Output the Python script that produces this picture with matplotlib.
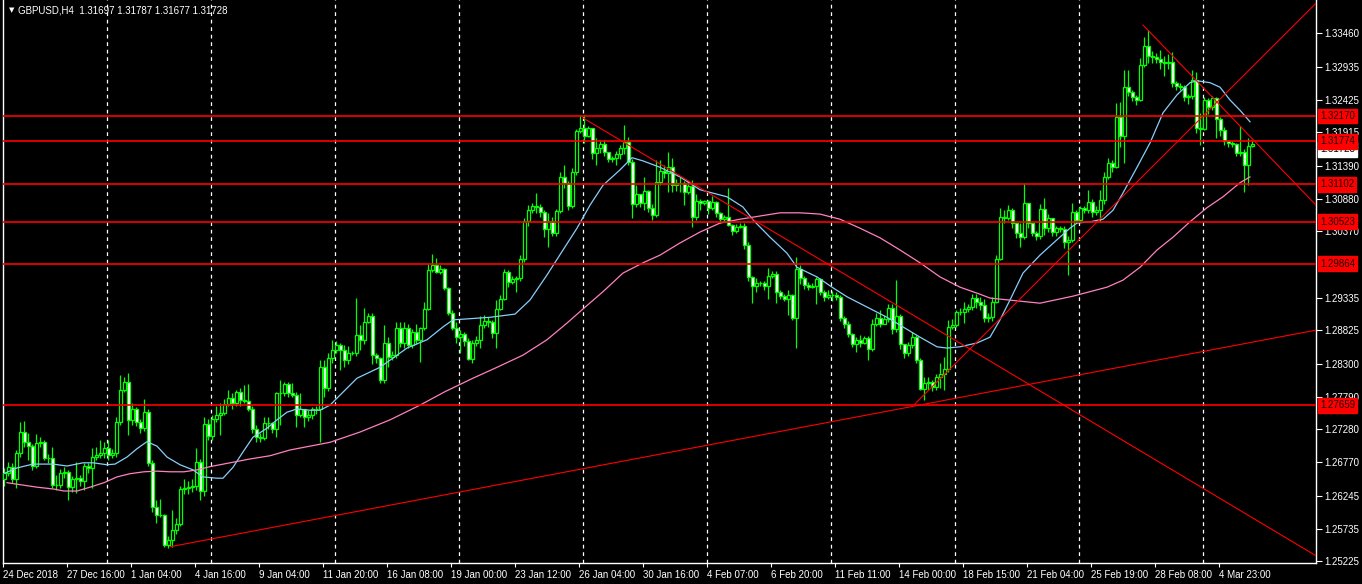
import numpy as np
import matplotlib
matplotlib.use("Agg")
import matplotlib.pyplot as plt
import matplotlib.transforms as mtransforms

plt.rcParams['font.family'] = ['Liberation Sans', 'DejaVu Sans']

# ---- data (prices in 1e-4 units) ----
header = "GBPUSD,H4  1.31697 1.31787 1.31677 1.31728"
last_price = 1.31728
first_open = 12650

close_p = [
    12660, 12670, 12651, 12691, 12724, 12709, 12702, 12671, 12707, 12709,
    12683, 12683, 12641, 12641, 12660, 12661, 12638, 12651, 12652, 12648,
    12671, 12668, 12685, 12688, 12691, 12699, 12688, 12691, 12740, 12790,
    12802, 12743, 12760, 12740, 12730, 12755, 12676, 12607, 12595, 12594,
    12548, 12556, 12571, 12581, 12635, 12637, 12638, 12640, 12677, 12632,
    12737, 12718, 12744, 12751, 12754, 12768, 12777, 12769, 12787, 12774,
    12772, 12760, 12729, 12716, 12715, 12738, 12738, 12729, 12785, 12785,
    12799, 12785, 12782, 12751, 12760, 12748, 12751, 12760, 12760, 12826,
    12793, 12840, 12852, 12860, 12852, 12836, 12847, 12847, 12875, 12868,
    12896, 12905, 12844, 12840, 12805, 12863, 12841, 12844, 12886, 12863,
    12886, 12860, 12880, 12868, 12886, 12916, 12977, 12985, 12974, 12978,
    12949, 12910, 12886, 12872, 12877, 12866, 12838, 12863, 12868, 12891,
    12897, 12896, 12878, 12916, 12932, 12974, 12958, 12963, 12964, 12994,
    13053, 13070, 13077, 13075, 13067, 13041, 13053, 13034, 13069, 13122,
    13112, 13077, 13130, 13194, 13198, 13186, 13198, 13159, 13167, 13173,
    13161, 13150, 13151, 13158, 13167, 13176, 13145, 13080, 13095, 13081,
    13100, 13073, 13063, 13114, 13131, 13128, 13137, 13109, 13112, 13112,
    13098, 13108, 13059, 13084, 13081, 13084, 13073, 13083, 13066, 13056,
    13059, 13047, 13038, 13044, 13045, 13016, 12966, 12952, 12956, 12956,
    12952, 12967, 12971, 12943, 12936, 12932, 12938, 12902, 12978, 12964,
    12953, 12950, 12952, 12963, 12943, 12935, 12938, 12938, 12935, 12902,
    12893, 12877, 12861, 12868, 12863, 12871, 12854, 12893, 12902, 12893,
    12900, 12918, 12885, 12905, 12861, 12847, 12860, 12872, 12836, 12791,
    12800, 12802, 12794, 12810, 12815, 12822, 12888, 12891, 12911, 12911,
    12916, 12919, 12933, 12927, 12922, 12902, 12903, 12927, 12994, 13059,
    13058, 13070, 13050, 13034, 13028, 13081, 13050, 13034, 13030, 13072,
    13042, 13058, 13036, 13042, 13041, 13020, 13024, 13067, 13055, 13073,
    13070, 13083, 13067, 13070, 13086, 13122, 13144, 13137, 13215, 13186,
    13262, 13254, 13247, 13242, 13297, 13326, 13311, 13309, 13306, 13301,
    13300, 13301, 13268, 13264, 13263, 13247, 13248, 13273, 13198, 13197,
    13242, 13231, 13245, 13212, 13195, 13178, 13175, 13173, 13159, 13161,
    13141, 13170, 13173,
]

high_p = [
    12668, 12678, 12676, 12696, 12740, 12741, 12723, 12705, 12721, 12716,
    12712, 12690, 12701, 12657, 12666, 12670, 12665, 12656, 12677, 12657,
    12676, 12676, 12699, 12701, 12712, 12709, 12712, 12697, 12747, 12813,
    12810, 12816, 12770, 12763, 12745, 12776, 12760, 12680, 12618, 12620,
    12596, 12562, 12602, 12590, 12640, 12650, 12648, 12650, 12699, 12682,
    12748, 12745, 12750, 12765, 12769, 12775, 12790, 12785, 12790, 12793,
    12797, 12799, 12764, 12735, 12722, 12748, 12748, 12740, 12787, 12805,
    12802, 12802, 12800, 12787, 12785, 12758, 12758, 12763, 12765, 12836,
    12836, 12848, 12868, 12866, 12863, 12860, 12858, 12850, 12933, 12891,
    12918, 12910, 12910, 12848, 12841, 12891, 12872, 12850, 12896, 12896,
    12895, 12893, 12885, 12893, 12888, 12927, 12986, 13002, 12996, 12985,
    12980, 12950, 12914, 12896, 12883, 12880, 12870, 12868, 12874, 12905,
    12906, 12903, 12899, 12930, 12938, 12978, 12977, 12967, 12968, 13000,
    13058, 13078, 13082, 13097, 13080, 13070, 13066, 13060, 13072, 13130,
    13141, 13115, 13136, 13196, 13219, 13219, 13202, 13198, 13183, 13180,
    13180, 13160, 13155, 13162, 13172, 13203, 13185, 13150, 13110, 13095,
    13122, 13102, 13080, 13148, 13148, 13140, 13161, 13152, 13118, 13122,
    13115, 13115, 13117, 13095, 13088, 13086, 13086, 13093, 13085, 13067,
    13062, 13105, 13048, 13048, 13050, 13050, 13020, 12968, 12965, 12960,
    12960, 12980, 12975, 12975, 12946, 12940, 12945, 12940, 12997, 12985,
    12968, 12958, 12956, 12966, 12965, 12946, 12946, 12944, 12942, 12938,
    12905, 12898, 12878, 12872, 12875, 12874, 12874, 12900, 12910, 12915,
    12906, 12924, 12923, 12961, 12908, 12860, 12864, 12880, 12876, 12840,
    12810, 12810, 12805, 12815, 12832, 12841, 12899, 12900, 12915, 12918,
    12927, 12924, 12940, 12940, 12935, 12932, 12910, 12935, 13000, 13073,
    13070, 13078, 13073, 13050, 13050, 13113, 13081, 13050, 13038, 13080,
    13089, 13064, 13058, 13045, 13046, 13046, 13030, 13081, 13070, 13076,
    13076, 13102, 13088, 13077, 13102, 13130, 13152, 13148, 13237, 13239,
    13289, 13289, 13258, 13250, 13308, 13340, 13351, 13318, 13316, 13320,
    13310, 13314, 13317, 13272, 13268, 13266, 13252, 13289, 13286, 13222,
    13247, 13245, 13248, 13247, 13215, 13200, 13180, 13178, 13175, 13201,
    13165, 13183, 13179,
]

low_p = [
    12640, 12655, 12645, 12637, 12685, 12700, 12680, 12665, 12668, 12700,
    12680, 12675, 12636, 12634, 12636, 12652, 12618, 12630, 12629, 12640,
    12634, 12660, 12637, 12680, 12684, 12684, 12680, 12683, 12685, 12735,
    12786, 12719, 12735, 12734, 12722, 12725, 12671, 12600, 12582, 12591,
    12545, 12543, 12545, 12565, 12578, 12628, 12628, 12630, 12634, 12618,
    12625, 12712, 12711, 12740, 12719, 12750, 12765, 12760, 12764, 12765,
    12769, 12757, 12722, 12708, 12708, 12712, 12728, 12722, 12716, 12735,
    12780, 12778, 12779, 12732, 12748, 12732, 12742, 12745, 12752, 12708,
    12779, 12788, 12832, 12848, 12821, 12826, 12830, 12844, 12842, 12852,
    12862, 12894, 12830, 12832, 12800, 12800, 12825, 12836, 12840, 12857,
    12855, 12855, 12855, 12862, 12833, 12883, 12914, 12974, 12972, 12970,
    12945, 12907, 12883, 12863, 12847, 12858, 12836, 12832, 12858, 12855,
    12886, 12888, 12870, 12855, 12914, 12930, 12950, 12955, 12942, 12960,
    12989, 13045, 13066, 13066, 13060, 13028, 13013, 13030, 13030, 13065,
    13105, 13070, 13074, 13125, 13190, 13175, 13185, 13150, 13141, 13160,
    13155, 13146, 13146, 13140, 13150, 13158, 13140, 13058, 13075, 13075,
    13070, 13068, 13055, 13060, 13110, 13120, 13098, 13098, 13100, 13098,
    13078, 13095, 13044, 13055, 13070, 13078, 13064, 13070, 13059, 13050,
    13052, 13045, 13032, 13034, 13042, 13010, 12960, 12925, 12942, 12952,
    12945, 12932, 12965, 12925, 12932, 12928, 12907, 12899, 12855, 12955,
    12947, 12946, 12948, 12924, 12938, 12929, 12932, 12928, 12930, 12897,
    12886, 12872, 12856, 12849, 12857, 12862, 12836, 12850, 12890, 12888,
    12893, 12896, 12877, 12880, 12854, 12840, 12843, 12855, 12832, 12790,
    12774, 12790, 12788, 12790, 12793, 12790, 12818, 12884, 12888, 12906,
    12894, 12912, 12915, 12918, 12915, 12896, 12895, 12898, 12925, 12992,
    13050, 13055, 13043, 13027, 13013, 13025, 13042, 13030, 13024, 13025,
    13031, 13036, 13030, 13030, 13036, 13011, 12969, 13020, 13050, 13052,
    13065, 13065, 13060, 13062, 13052, 13080, 13118, 13130, 13136, 13169,
    13144, 13248, 13240, 13234, 13240, 13293, 13300, 13300, 13300, 13290,
    13280, 13290, 13262, 13258, 13258, 13240, 13236, 13244, 13190, 13172,
    13195, 13220, 13226, 13183, 13186, 13172, 13168, 13168, 13154, 13154,
    13098, 13109, 13168,
]

# moving averages, sampled along the chart (bar position, price in 1e-4)
fast_ma_x = [0.25, 3.25, 7.25, 12.25, 15.75, 19.75, 22.25, 25.75, 27.75, 30.75,
             33.25, 35.75, 38.25, 40.75, 44, 47.25, 49.75, 53.25, 54.75, 57.25,
             59.75, 62.25, 65.75, 68.25, 70.75, 73.25, 76.5, 79, 81.5, 88.25,
             94, 100.75, 105.75, 109.75, 112.25, 121.5, 127.75, 131.5, 135.75, 139.75,
             143.25, 146.5, 149.75, 154, 157, 159.75, 164, 169, 174, 180.75,
             184.75, 187.25, 191.5, 195.75, 198.25, 203.25, 207.25, 210.75, 215.75, 220.75,
             224.75, 229, 233.25, 235.75, 239, 243.25, 246.5, 249, 251.5, 254.75,
             259, 263.25, 266.5, 268.25, 271.5, 274.75, 277.25, 279.75, 283.25, 286.5,
             289.75, 293.25, 296.5, 298.25, 301.5, 304, 306.5, 309, 311.5]
fast_ma_p = [12660, 12668, 12674, 12674, 12671, 12676, 12676, 12673, 12674, 12685,
             12698, 12709, 12702, 12685, 12673, 12665, 12654, 12652, 12652, 12669,
             12693, 12716, 12730, 12743, 12755, 12760, 12758, 12758, 12766, 12808,
             12825, 12855, 12868, 12888, 12899, 12903, 12908, 12930, 12969, 13008,
             13042, 13078, 13109, 13133, 13152, 13147, 13137, 13122, 13102, 13091,
             13075, 13055, 13028, 13003, 12981, 12966, 12949, 12935, 12919, 12903,
             12888, 12872, 12857, 12855, 12857, 12863, 12872, 12899, 12930, 12972,
             13000, 13024, 13042, 13050, 13052, 13056, 13070, 13097, 13137, 13175,
             13222, 13250, 13269, 13272, 13269, 13262, 13242, 13226, 13208]

slow_ma_x = [0.75, 5, 8.25, 12.5, 15, 18.25, 21.5, 25, 28.25, 31.5,
             35, 38.25, 41.5, 45, 48.25, 51.5, 56.5, 61.5, 66.5, 71.5,
             76.5, 81.5, 89, 96.5, 104, 110.25, 117.25, 123.25, 129.75, 135.75,
             140.75, 144.75, 149.75, 154.75, 159.75, 164, 169, 174, 179, 184,
             189, 194, 199, 204, 209, 214, 219, 224, 229, 234,
             239, 244, 246.5, 259, 267.25, 275.75, 279.75, 284, 288.25, 292.25,
             296.5, 300.75, 304.75, 309, 311.5]
slow_ma_p = [12645, 12641, 12638, 12635, 12632, 12632, 12638, 12645, 12654, 12659,
             12662, 12663, 12662, 12662, 12665, 12670, 12676, 12682, 12687, 12696,
             12702, 12708, 12724, 12743, 12766, 12787, 12808, 12825, 12844, 12868,
             12894, 12916, 12943, 12972, 12988, 13000, 13019, 13036, 13050, 13056,
             13061, 13066, 13066, 13064, 13056, 13042, 13027, 13008, 12988, 12966,
             12950, 12939, 12933, 12925, 12936, 12950, 12961, 12981, 13008, 13028,
             13052, 13074, 13091, 13113, 13122]

levels = [1.32170, 1.31774, 1.31102, 1.30523, 1.29864, 1.27659]

# trend lines: (bar, price) anchor pairs
trend_lines = [
    ((41.5, 1.2545), (328, 1.2883)),
    ((144.75, 1.3214), (328, 1.2531)),
    ((227.75, 1.2768), (328, 1.3393)),
    ((284.75, 1.3359), (328, 1.3078)),
]

price_ticks = [1.33460, 1.32935, 1.32425, 1.31915, 1.31390, 1.30880, 1.30370,
               1.29335, 1.28825, 1.28300, 1.27790, 1.27280, 1.26770, 1.26245,
               1.25735, 1.25225]

date_labels = ["24 Dec 2018", "27 Dec 16:00", "1 Jan 04:00", "4 Jan 16:00",
               "9 Jan 04:00", "11 Jan 20:00", "16 Jan 08:00", "19 Jan 00:00",
               "23 Jan 12:00", "26 Jan 04:00", "30 Jan 16:00", "4 Feb 07:00",
               "6 Feb 20:00", "11 Feb 11:00", "14 Feb 00:00", "18 Feb 15:00",
               "21 Feb 04:00", "25 Feb 19:00", "28 Feb 08:00", "4 Mar 23:00"]
label_step = 16

week_bars = [25.75, 51.75, 82.75, 113.75, 144.75, 175.75, 206.75, 237.75,
             268.75, 299.75]

# ---- arrays ----
close = np.array(close_p) / 1e4
high = np.array(high_p) / 1e4
low = np.array(low_p) / 1e4
opens = np.concatenate([[first_open / 1e4], close[:-1]])
idx = np.arange(len(close))

GREEN = '#00ff00'
RED = '#ff0000'

fig = plt.figure(figsize=(13.62, 5.84), dpi=100, facecolor='black')
ax = fig.add_axes([3 / 1362, 21 / 584, 1313 / 1362, 563 / 584])
ax.set_facecolor('black')
ax.set_xlim(-0.25, 328)
ax.set_ylim(1.25197, 1.33980)

# week separators
for g in week_bars:
    ax.axvline(g, color='white', lw=0.9, ls=(0, (3, 3)), zorder=1)

# candles
ax.vlines(idx, low, high, colors=GREEN, lw=0.9, zorder=2)
bull = close >= opens
body_h = np.maximum(np.abs(close - opens), 0.00002)
ax.bar(idx, body_h, bottom=np.minimum(opens, close), width=0.75,
       color=np.where(bull, 'black', 'white'), edgecolor=GREEN,
       linewidth=0.9, zorder=3)

# moving averages
ax.plot(fast_ma_x, np.array(fast_ma_p) / 1e4, color='#87cefa', lw=0.9, zorder=4)
ax.plot(slow_ma_x, np.array(slow_ma_p) / 1e4, color='#ff80c0', lw=0.9, zorder=4)

# horizontal levels and trend lines
for lv in levels:
    ax.axhline(lv, color=RED, lw=1.2, zorder=5)
for (x0, y0), (x1, y1) in trend_lines:
    ax.plot([x0, x1], [y0, y1], color=RED, lw=0.8, zorder=5)

# axes styling
ax.spines['top'].set_visible(False)
for s in ['left', 'right', 'bottom']:
    ax.spines[s].set_color('white')
    ax.spines[s].set_linewidth(1.0)

ax.yaxis.tick_right()
ax.set_yticks(price_ticks)
ax.set_yticklabels([f"{v:.5f}" for v in price_ticks])
ax.tick_params(axis='y', colors='white', length=4, width=0.8, labelsize=7, pad=2)

xt = [k * label_step - 0.25 for k in range(len(date_labels))]
ax.set_xticks(xt)
ax.set_xticklabels(date_labels)
ax.tick_params(axis='x', colors='white', length=3, width=0.8, labelsize=7, pad=2)
for t in ax.get_xticklabels():
    t.set_horizontalalignment('left')

# price labels on the right
trans = mtransforms.blended_transform_factory(ax.transAxes, ax.transData)
ax.text(1.003, last_price, f"{last_price:.5f}", transform=trans, ha='left',
        va='top', fontsize=7, color='black',
        bbox=dict(boxstyle='square,pad=0.25', fc='white', ec='white'))
for lv in levels:
    ax.text(1.003, lv, f"{lv:.5f}", transform=trans, ha='left', va='center',
            fontsize=7, color='#200000',
            bbox=dict(boxstyle='square,pad=0.25', fc=RED, ec=RED))

# header
ax.text(0.0045, 0.982, "\u25bc", transform=ax.transAxes, color='white',
        fontsize=5, va='center', ha='left', family='DejaVu Sans')
ax.text(0.0115, 0.982, header, transform=ax.transAxes, color='white',
        fontsize=7, va='center', ha='left')

fig.savefig("out.png", dpi=100, facecolor='black')
